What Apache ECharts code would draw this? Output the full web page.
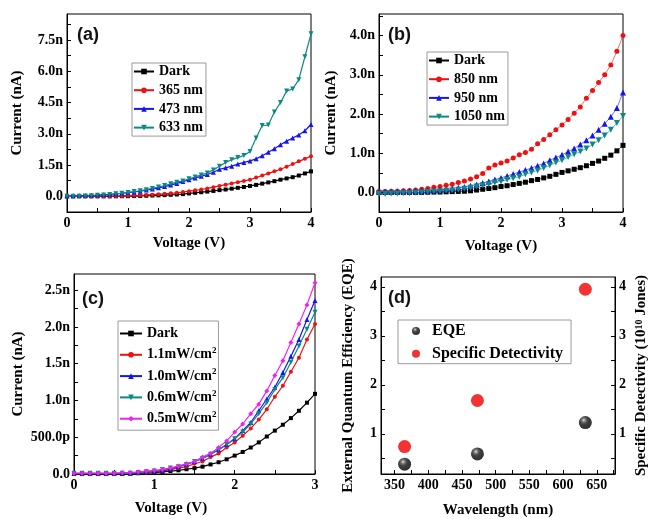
<!DOCTYPE html>
<html>
<head>
<meta charset="utf-8">
<script src="https://cdn.jsdelivr.net/npm/echarts@6/dist/echarts.min.js"></script>
<style>
  html, body { margin: 0; padding: 0; background: #fff; }
  #chart { width: 650px; height: 519px; }
</style>
</head>
<body>
<div id="chart"></div>
<script>
// ---- data ----
const voltsAB = [0,0.1,0.2,0.3,0.4,0.5,0.6,0.7,0.8,0.9,1.0,1.1,1.2,1.3,1.4,1.5,1.6,1.7,1.8,1.9,2.0,2.1,2.2,2.3,2.4,2.5,2.6,2.7,2.8,2.9,3.0,3.1,3.2,3.3,3.4,3.5,3.6,3.7,3.8,3.9,4.0];
const voltsC = [0,0.1,0.2,0.3,0.4,0.5,0.6,0.7,0.8,0.9,1.0,1.1,1.2,1.3,1.4,1.5,1.6,1.7,1.8,1.9,2.0,2.1,2.2,2.3,2.4,2.5,2.6,2.7,2.8,2.9,3.0];

// (a) current in nA
const darkA = [0,0,0,0,0,0,0,0,0.005,0.008,0.01,0.015,0.02,0.03,0.04,0.05,0.06,0.075,0.09,0.11,0.14,0.17,0.2,0.23,0.26,0.3,0.33,0.37,0.41,0.45,0.5,0.55,0.61,0.67,0.73,0.8,0.86,0.92,1.0,1.1,1.2];
const nm365A = [0,0,0,0,0,0.005,0.008,0.01,0.015,0.02,0.03,0.04,0.05,0.065,0.08,0.1,0.12,0.145,0.17,0.21,0.25,0.29,0.33,0.38,0.44,0.5,0.56,0.62,0.68,0.74,0.8,0.9,1.0,1.1,1.2,1.3,1.42,1.55,1.68,1.8,1.93];
const nm473A = [0.03,0.03,0.04,0.04,0.05,0.06,0.08,0.1,0.12,0.15,0.18,0.21,0.25,0.3,0.35,0.41,0.47,0.54,0.62,0.71,0.8,0.88,0.96,1.05,1.16,1.3,1.37,1.45,1.55,1.63,1.7,1.8,1.95,2.12,2.28,2.48,2.65,2.8,2.95,3.15,3.45];
const nm633A = [0,0,0.01,0.02,0.03,0.05,0.07,0.09,0.12,0.15,0.19,0.23,0.27,0.32,0.38,0.45,0.52,0.6,0.68,0.74,0.84,0.93,1.03,1.12,1.27,1.45,1.63,1.76,1.86,1.96,2.15,2.8,3.4,3.42,4.05,4.5,5.05,5.15,5.6,6.7,7.8];

// (b) current in nA
const darkB = [0,0,0,0,0,0,0,0,0.005,0.008,0.01,0.015,0.02,0.025,0.03,0.04,0.06,0.08,0.1,0.12,0.15,0.17,0.2,0.23,0.26,0.3,0.33,0.37,0.41,0.46,0.51,0.55,0.59,0.63,0.68,0.74,0.8,0.87,0.95,1.06,1.2];
const nm850B = [0.02,0.02,0.03,0.03,0.04,0.05,0.06,0.08,0.1,0.13,0.15,0.18,0.21,0.25,0.29,0.34,0.4,0.48,0.62,0.7,0.75,0.8,0.88,0.96,1.02,1.1,1.24,1.35,1.47,1.6,1.72,1.86,2.02,2.18,2.4,2.6,2.8,3.0,3.25,3.6,4.0];
const nm950B = [0.02,0.02,0.02,0.03,0.03,0.03,0.04,0.05,0.05,0.06,0.07,0.08,0.1,0.12,0.14,0.17,0.2,0.24,0.28,0.33,0.37,0.42,0.47,0.52,0.57,0.62,0.68,0.74,0.82,0.89,0.96,1.04,1.12,1.22,1.33,1.45,1.6,1.75,1.93,2.15,2.55];
const nm1050B = [-0.04,-0.04,-0.03,-0.03,-0.02,-0.02,-0.01,0,0.01,0.02,0.03,0.04,0.05,0.07,0.09,0.12,0.15,0.18,0.21,0.25,0.28,0.32,0.36,0.4,0.46,0.51,0.56,0.62,0.69,0.76,0.82,0.9,0.97,1.04,1.12,1.22,1.33,1.45,1.6,1.77,1.95];

// (c) current in nA
const darkC = [0,0,0,0,0,0,0,0.005,0.01,0.015,0.02,0.03,0.04,0.05,0.065,0.08,0.1,0.13,0.16,0.2,0.25,0.3,0.36,0.43,0.51,0.59,0.67,0.76,0.86,0.97,1.09];
const p11C = [0,0,0,0,0,0,0.005,0.01,0.015,0.02,0.03,0.04,0.06,0.08,0.1,0.14,0.17,0.23,0.28,0.36,0.43,0.52,0.62,0.74,0.88,1.05,1.2,1.39,1.58,1.83,2.04];
const p10C = [0.01,0.01,0.01,0.01,0.01,0.01,0.01,0.01,0.02,0.03,0.04,0.05,0.07,0.1,0.13,0.17,0.21,0.27,0.33,0.4,0.48,0.59,0.7,0.86,1.02,1.18,1.38,1.6,1.83,2.1,2.36];
const p06C = [0.01,0.01,0.01,0.01,0.01,0.01,0.01,0.01,0.02,0.03,0.04,0.06,0.08,0.1,0.13,0.17,0.21,0.27,0.33,0.4,0.48,0.57,0.68,0.82,0.97,1.15,1.31,1.52,1.74,1.97,2.2];
const p05C = [0.01,0.01,0.01,0.01,0.01,0.01,0.02,0.02,0.03,0.04,0.05,0.06,0.08,0.11,0.14,0.17,0.23,0.28,0.36,0.45,0.57,0.68,0.82,0.95,1.13,1.34,1.54,1.79,2.04,2.3,2.6];

// (d)
const wavelengths = [365, 473, 633];
const eqe = [0.38, 0.59, 1.23];
const detectivity = [0.74, 1.68, 3.95];

// tick labels
const yTickValsA = [0, 1.5, 3, 4.5, 6, 7.5];
const yTickTextA = ['0.0', '1.5n', '3.0n', '4.5n', '6.0n', '7.5n'];
const yTickValsB = [0, 1, 2, 3, 4];
const yTickTextB = ['0.0', '1.0n', '2.0n', '3.0n', '4.0n'];
const yTickValsC = [0, 0.5, 1, 1.5, 2, 2.5];
const yTickTextC = ['0.0', '500.0p', '1.0n', '1.5n', '2.0n', '2.5n'];
const xTickValsAB = [0, 1, 2, 3, 4];
const xTickValsC = [0, 1, 2, 3];
const xTickValsD = [350, 400, 450, 500, 550, 600, 650];
const yTickValsD = [1, 2, 3, 4];

const serif = 'Liberation Serif';
const black = '#000';

function pairs(xs, ys) {
  return xs.map((x, i) => [x, ys[i]]);
}

function minorTicks(from, to, step) {
  const out = [];
  for (let v = from; v <= to + 1e-9; v += step) out.push(Math.round(v * 1000) / 1000);
  return out;
}

function axis(o) {
  const labelText = o.text
    ? (v) => { const i = o.labels.indexOf(v); return i >= 0 ? o.text[i] : ''; }
    : (v) => String(v);
  return {
    type: 'value',
    gridIndex: o.grid,
    min: o.min,
    max: o.max,
    position: o.pos,
    name: o.name,
    nameLocation: 'middle',
    nameGap: o.gap,
    nameRotate: o.rotate || 0,
    nameTextStyle: {
      fontFamily: serif, fontWeight: 'bold', fontSize: o.nameSize || 14, color: black,
      padding: o.namePad || 0,
      rich: {
        sup: { fontFamily: serif, fontWeight: 'bold', fontSize: 10, color: black, verticalAlign: 'top', lineHeight: 10 }
      }
    },
    axisLine: { show: true, onZero: false, lineStyle: { color: black, width: 1 } },
    axisTick: { show: true, inside: true, length: 4, customValues: o.ticks, lineStyle: { color: black, width: 1 } },
    axisLabel: {
      customValues: o.labels, formatter: labelText, margin: 4,
      fontFamily: serif, fontWeight: 'bold', fontSize: 14, color: black
    },
    splitLine: { show: false }
  };
}

function curve(name, xs, ys, color, symbol, size, xi, opts) {
  return Object.assign({
    name: name,
    type: 'line',
    xAxisIndex: xi,
    yAxisIndex: xi,
    data: pairs(xs, ys),
    symbol: symbol,
    symbolSize: size,
    showSymbol: true,
    color: color,
    itemStyle: { color: color },
    lineStyle: { color: color, width: 1.2 },
    animation: false
  }, opts || {});
}

function legendBox(o) {
  const fs = o.fs || 14;
  const lh = o.lh || 15;
  return {
    orient: 'vertical',
    left: o.left,
    top: o.top,
    data: o.data,
    padding: o.padding,
    itemGap: o.gap,
    itemWidth: o.iw || 20,
    itemHeight: o.ih || 7,
    borderColor: '#9a9a9a',
    borderWidth: 1,
    selectedMode: false,
    formatter: o.formatter,
    textStyle: {
      fontFamily: serif, fontWeight: 'bold', fontSize: fs, color: black,
      lineHeight: lh,
      rich: {
        b: { fontFamily: serif, fontWeight: 'bold', fontSize: fs, color: black, lineHeight: lh },
        sup: { fontFamily: serif, fontWeight: 'bold', fontSize: 9, color: black, verticalAlign: 'top', lineHeight: 9 }
      }
    }
  };
}

const chart = echarts.init(document.getElementById('chart'), null, { renderer: 'canvas' });

const sphere = {
  type: 'radial', x: 0.38, y: 0.32, r: 0.62,
  colorStops: [
    { offset: 0, color: '#f2f2f2' },
    { offset: 0.18, color: '#6a6a6a' },
    { offset: 0.5, color: '#111' },
    { offset: 1, color: '#000' }
  ]
};

const option = {
  animation: false,
  backgroundColor: '#fff',
  grid: [
    { left: 67, top: 14, width: 244, height: 198 },
    { left: 379, top: 14, width: 244, height: 198 },
    { left: 74, top: 274, width: 241, height: 200 },
    { left: 381, top: 277, width: 236, height: 197 }
  ].map(g => Object.assign(g, { show: true, borderColor: black, borderWidth: 1, backgroundColor: 'transparent' })),
  xAxis: [
    axis({ grid: 0, min: 0, max: 4, labels: xTickValsAB, ticks: minorTicks(0, 4, 0.5), name: 'Voltage (V)', gap: 24, nameSize: 15 }),
    axis({ grid: 1, min: 0, max: 4, labels: xTickValsAB, ticks: minorTicks(0, 4, 0.5), name: 'Voltage (V)', gap: 27, nameSize: 15 }),
    axis({ grid: 2, min: 0, max: 3, labels: xTickValsC, ticks: minorTicks(0, 3, 0.5), name: 'Voltage (V)', gap: 27, nameSize: 15, namePad: [0, 47, 0, 0] }),
    axis({ grid: 3, min: 330, max: 677, labels: xTickValsD, ticks: minorTicks(350, 675, 25), name: 'Wavelength (nm)', gap: 29, nameSize: 15 })
  ],
  yAxis: [
    axis({ grid: 0, min: -0.75, max: 8.75, labels: yTickValsA, text: yTickTextA, ticks: minorTicks(0, 8.25, 0.75), name: 'Current (nA)', gap: 42, rotate: 90, nameSize: 15 }),
    axis({ grid: 1, min: -0.5, max: 4.55, labels: yTickValsB, text: yTickTextB, ticks: minorTicks(0, 4.5, 0.5), name: 'Current (nA)', gap: 40, rotate: 90, nameSize: 15 }),
    axis({ grid: 2, min: 0, max: 2.72, labels: yTickValsC, text: yTickTextC, ticks: minorTicks(0, 2.5, 0.25), name: 'Current (nA)', gap: 48, rotate: 90, nameSize: 15 }),
    axis({ grid: 3, min: 0.18, max: 4.2, labels: yTickValsD, ticks: minorTicks(0.5, 4, 0.5), name: 'External Quantum Efficiency (EQE)', gap: 25, rotate: 90, nameSize: 15 }),
    axis({ grid: 3, min: 0.18, max: 4.2, pos: 'right', labels: yTickValsD, ticks: minorTicks(0.5, 4, 0.5), name: 'Specific Detectivity (10{sup|10} Jones)', gap: 19, rotate: 90, nameSize: 15 })
  ],
  legend: [
    legendBox({ left: 132, top: 63, data: ['Dark', '365 nm', '473 nm', '633 nm'], padding: [1, 3, 1, 1], gap: 3.7 }),
    legendBox({ left: 427, top: 52, data: ['Dark ', '850 nm', '950 nm', '1050 nm'], padding: [1, 3, 1, 1], gap: 3.7 }),
    legendBox({
      left: 118, top: 321, data: ['Dark  ', '1.1mW/cm²', '1.0mW/cm²', '0.6mW/cm²', '0.5mW/cm²'],
      padding: [4, 2, 3, 1], gap: 4.3, iw: 22, lh: 17,
      formatter: n => n.indexOf('²') >= 0 ? '{b|' + n.replace('²', '') + '}{sup|2}' : '{b|' + n.trim() + '}'
    }),
    legendBox({ left: 398, top: 320, data: ['EQE', 'Specific Detectivity'], padding: [2, 8, 1, 14], gap: 4.7, iw: 22, ih: 8, fs: 16, lh: 18 })
  ],
  graphic: [
    { type: 'text', left: 77, top: 26, style: { text: '(a)', fontFamily: 'Liberation Sans', fontWeight: 'bold', fontSize: 18, fill: '#111' } },
    { type: 'text', left: 388, top: 26, style: { text: '(b)', fontFamily: 'Liberation Sans', fontWeight: 'bold', fontSize: 18, fill: '#111' } },
    { type: 'text', left: 82, top: 290, style: { text: '(c)', fontFamily: 'Liberation Sans', fontWeight: 'bold', fontSize: 18, fill: '#111' } },
    { type: 'text', left: 388, top: 289, style: { text: '(d)', fontFamily: 'Liberation Sans', fontWeight: 'bold', fontSize: 18, fill: '#111' } }
  ],
  series: [
    // (a)
    curve('Dark', voltsAB, darkA, '#000', 'rect', 4, 0),
    curve('365 nm', voltsAB, nm365A, '#f01010', 'circle', 4, 0),
    curve('473 nm', voltsAB, nm473A, '#1515ee', 'triangle', 5, 0),
    curve('633 nm', voltsAB, nm633A, '#0a8a80', 'triangle', 5, 0, { symbolRotate: 180 }),
    // (b)
    curve('Dark ', voltsAB, darkB, '#000', 'rect', 5, 1, { lineStyle: { color: '#000', width: 0.6 } }),
    curve('850 nm', voltsAB, nm850B, '#f01010', 'circle', 5, 1, { lineStyle: { color: '#f01010', width: 0.6 } }),
    curve('950 nm', voltsAB, nm950B, '#1515ee', 'triangle', 6, 1, { lineStyle: { color: '#1515ee', width: 0.6 } }),
    curve('1050 nm', voltsAB, nm1050B, '#0a8a80', 'triangle', 6, 1, { symbolRotate: 180, lineStyle: { color: '#0a8a80', width: 0.6 } }),
    // (c)
    curve('Dark  ', voltsC, darkC, '#000', 'rect', 4, 2),
    curve('1.1mW/cm²', voltsC, p11C, '#f01010', 'circle', 4, 2),
    curve('1.0mW/cm²', voltsC, p10C, '#1515ee', 'triangle', 5, 2),
    curve('0.6mW/cm²', voltsC, p06C, '#0a8a80', 'triangle', 5, 2, { symbolRotate: 180 }),
    curve('0.5mW/cm²', voltsC, p05C, '#f020f0', 'diamond', 5, 2),
    // (d)
    {
      name: 'EQE', type: 'scatter', xAxisIndex: 3, yAxisIndex: 3,
      data: pairs(wavelengths, eqe), symbol: 'circle', symbolSize: 13,
      itemStyle: { color: sphere }
    },
    {
      name: 'Specific Detectivity', type: 'scatter', xAxisIndex: 3, yAxisIndex: 4,
      data: pairs(wavelengths, detectivity), symbol: 'circle', symbolSize: 13,
      itemStyle: { color: '#f00000' }
    }
  ]
};

chart.setOption(option);
</script>
</body>
</html>
